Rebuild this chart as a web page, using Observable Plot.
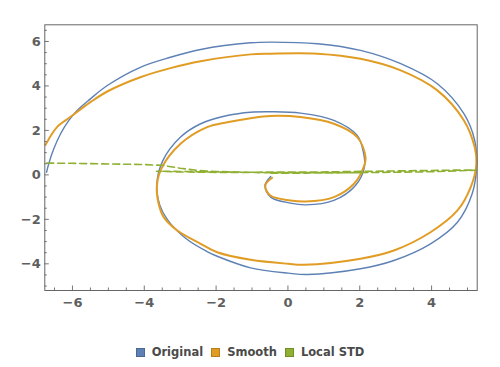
<!DOCTYPE html>
<html>
<head>
<meta charset="utf-8">
<script src="https://cdn.jsdelivr.net/npm/d3@7"></script>
<script src="https://cdn.jsdelivr.net/npm/@observablehq/plot@0.6"></script>
<style>
  body { margin: 0; background: #fff; }
  #wrap { width: 500px; height: 367px; position: relative; font-family: "DejaVu Sans", sans-serif; }
  #legend { position: absolute; left: 0; top: 343px; width: 500px; height: 18px; display: flex; justify-content: center; align-items: center; font-weight: bold; font-size: 11.5px; color: #4a4a4a; }
  .item { display: flex; align-items: center; margin: 0 4px; }
  .sw { width: 7px; height: 7px; margin-right: 7px; border: 1px solid; }
</style>
</head>
<body>
<div id="wrap"><div id="chart"></div><div id="legend"></div></div>
<script>
const seriesNames = ["Original", "Smooth", "Local STD"];

const originalX = [-0.48,-0.64,-0.48,0.07,0.49,1.28,1.88,2.13,2.11,1.93,1.28,0.35,-0.48,-1.04,-1.69,-2.43,-2.99,-3.48,-3.65,-3.57,-3.36,-2.85,-2.25,-1.97,-1.04,0.01,0.54,2.02,2.95,3.97,4.72,5.13,5.25,5.2,4.9,4.16,3.14,2.02,0.82,-0.48,-1.04,-2.43,-3.27,-4.11,-5.03,-5.50,-5.87,-6.10,-6.33,-6.52,-6.66,-6.72];
const originalY = [-0.07,-0.48,-1.0,-1.27,-1.35,-1.15,-0.48,0.35,0.95,1.77,2.45,2.78,2.84,2.82,2.67,2.30,1.70,0.65,-0.40,-1.35,-2.0,-2.85,-3.45,-3.66,-4.18,-4.42,-4.48,-4.22,-3.85,-3.10,-2.13,-0.85,0.35,1.55,2.75,4.10,5.0,5.60,5.90,5.97,5.94,5.64,5.29,4.84,4.02,3.42,2.90,2.45,1.85,1.17,0.50,0.12];

const smoothX = [-0.44,-0.63,-0.49,0.07,0.49,1.28,1.84,2.11,2.16,1.93,1.28,0.35,-0.49,-1.04,-1.69,-2.25,-2.99,-3.52,-3.65,-3.60,-3.46,-3.08,-2.43,-1.97,-1.04,0.01,0.44,2.02,2.95,3.97,4.72,5.09,5.25,5.2,4.9,4.16,3.14,2.02,0.82,-0.49,-1.04,-2.43,-3.27,-4.11,-5.03,-5.50,-6.06,-6.43,-6.75];
const smoothY = [-0.13,-0.48,-0.93,-1.15,-1.20,-1.0,-0.40,0.35,0.80,1.70,2.30,2.60,2.65,2.55,2.37,2.15,1.40,0.30,-0.50,-1.30,-1.90,-2.50,-3.10,-3.48,-3.82,-4.0,-4.04,-3.77,-3.40,-2.58,-1.60,-0.55,0.50,1.25,2.45,3.80,4.70,5.22,5.45,5.45,5.42,5.11,4.80,4.39,3.75,3.27,2.60,2.15,1.35];

const stdX = [-0.48,0.49,1.28,2.13,1.28,-0.48,-1.69,-3.0,-3.66,-3.36,-1.97,0.01,2.02,3.97,5.25,4.9,3.14,0.82,-1.04,-2.0,-2.5,-3.0,-3.5,-4.11,-4.94,-6.06,-6.75];
const stdY = [0.08,0.08,0.09,0.1,0.1,0.1,0.11,0.13,0.16,0.16,0.13,0.1,0.1,0.14,0.21,0.22,0.18,0.13,0.12,0.15,0.2,0.3,0.43,0.47,0.49,0.52,0.53];

const xTicks = [-6, -4, -2, 0, 2, 4];
const yTicks = [-4, -2, 0, 2, 4, 6];

const colors = ["#5E81B5", "#E19C24", "#8FB032"];

const toPts = (xs, ys) => xs.map((x, i) => ({x, y: ys[i]}));
const original = toPts(originalX, originalY);
const smooth = toPts(smoothX, smoothY);
const std = toPts(stdX, stdY);

const xMinor = d3.range(-6.5, 5.01, 0.5).filter(v => !xTicks.includes(v));
const yMinor = d3.range(-5, 6.51, 0.5).filter(v => !yTicks.includes(v));

const W = 500, H = 335, mT = 24.3, mB = 45, mL = 44.3, mR = 23.3;
const iH = H - mT - mB, iW = W - mL - mR;

const chart = Plot.plot({
  width: W, height: H,
  marginTop: mT, marginBottom: mB, marginLeft: mL, marginRight: mR,
  style: {fontFamily: "DejaVu Sans, sans-serif", fontSize: "13px", fontWeight: "bold", color: "#5f5f5f", background: "#fff"},
  x: {domain: [-6.77, 5.27], label: null},
  y: {domain: [-5.2, 6.75], label: null},
  marks: [
    Plot.line(original, {x: "x", y: "y", stroke: colors[0], strokeWidth: 1.4, curve: "catmull-rom"}),
    Plot.line(smooth, {x: "x", y: "y", stroke: colors[1], strokeWidth: 2, curve: "catmull-rom"}),
    Plot.line(std, {x: "x", y: "y", stroke: colors[2], strokeWidth: 1.6, strokeDasharray: "7,4", curve: "linear"}),
    Plot.ruleX(xTicks, {x: d => d, insetTop: iH - 4.5, stroke: "#777", strokeWidth: 1}),
    Plot.ruleX(xMinor, {x: d => d, insetTop: iH - 2.5, stroke: "#777", strokeWidth: 1}),
    Plot.ruleY(yTicks, {y: d => d, insetRight: iW - 4.5, stroke: "#777", strokeWidth: 1}),
    Plot.ruleY(yMinor, {y: d => d, insetRight: iW - 2.5, stroke: "#777", strokeWidth: 1}),
    Plot.frame({stroke: "#666", strokeWidth: 1}),
    Plot.axisX(xTicks, {tickSize: 0, tickPadding: 6.8, fill: "#5f5f5f"}),
    Plot.axisY(yTicks, {tickSize: 0, tickPadding: 4, fill: "#5f5f5f"})
  ]
});
document.getElementById("chart").appendChild(chart);

const legend = document.getElementById("legend");
seriesNames.forEach((name, i) => {
  const item = document.createElement("div");
  item.className = "item";
  const sw = document.createElement("span");
  sw.className = "sw";
  sw.style.background = colors[i];
  sw.style.borderColor = d3.color(colors[i]).darker(0.6).formatHex();
  const t = document.createElement("span");
  t.textContent = name;
  item.appendChild(sw);
  item.appendChild(t);
  legend.appendChild(item);
});
</script>
</body>
</html>
